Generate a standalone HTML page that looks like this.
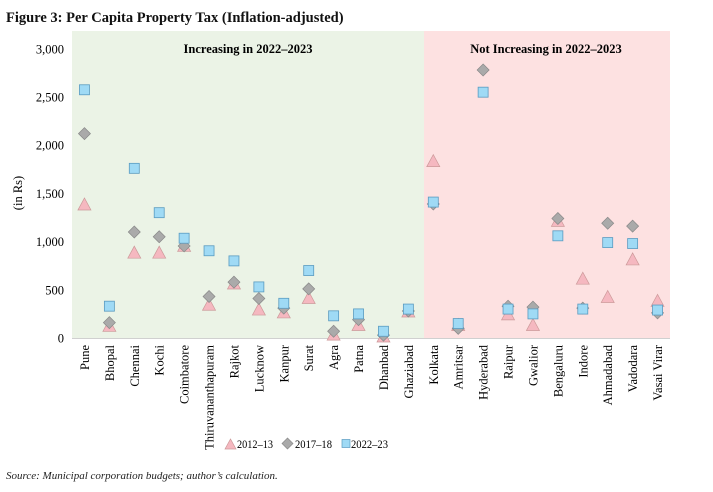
<!DOCTYPE html>
<html><head><meta charset="utf-8"><style>
body{margin:0;background:#fff;width:713px;height:487px;overflow:hidden;font-family:"Liberation Serif",serif}
</style></head><body>
<svg width="713" height="487" xmlns="http://www.w3.org/2000/svg" font-family="Liberation Serif, serif">
<text x="6" y="22" font-size="14.5" font-weight="bold" fill="#111">Figure 3: Per Capita Property Tax (Inflation-adjusted)</text>
<rect x="72" y="31" width="352" height="307" fill="#ebf3e6"/>
<rect x="424" y="31" width="246" height="307" fill="#fde1e1"/>
<line x1="72" y1="338.5" x2="670" y2="338.5" stroke="#d0d0d0"/>
<text x="248" y="53" text-anchor="middle" font-size="12.5" font-weight="bold">Increasing in 2022–2023</text>
<text x="546" y="53" text-anchor="middle" font-size="12.5" font-weight="bold">Not Increasing in 2022–2023</text>
<text transform="translate(22,193) rotate(-90)" text-anchor="middle" font-size="12.5">(in Rs)</text>
<g id="yticks"></g><g id="xlabels"></g><g id="marks"></g>
<g>
<polygon points="225,449 230.5,439 236,449" fill="#f5b8c0" stroke="#c99" stroke-width="0.7"/>
<text x="237" y="448" font-size="12" textLength="36" lengthAdjust="spacingAndGlyphs">2012–13</text>
<polygon points="287.5,438 293,443.5 287.5,449 282,443.5" fill="#aaa" stroke="#888" stroke-width="0.7"/>
<text x="295" y="448" font-size="12" textLength="37" lengthAdjust="spacingAndGlyphs">2017–18</text>
<rect x="342" y="439.5" width="8" height="8" fill="#9fdaf5" stroke="#5a9bc0" stroke-width="0.7"/>
<text x="351" y="448" font-size="12" textLength="37" lengthAdjust="spacingAndGlyphs">2022–23</text>
</g>
<text x="6" y="479" font-size="11" font-style="italic" fill="#222">Source: Municipal corporation budgets; author’s calculation.</text>
</svg>
<script>
const categories=["Pune","Bhopal","Chennai","Kochi","Coimbatore","Thiruvananthapuram","Rajkot","Lucknow","Kanpur","Surat","Agra","Patna","Dhanbad","Ghaziabad","Kolkata","Amritsar","Hyderabad","Raipur","Gwalior","Bengaluru","Indore","Ahmadabad","Vadodara","Vasai Virar"];
const v2012=[1380,120,880,880,950,340,560,290,260,410,30,130,10,270,1830,130,null,240,130,1210,610,420,810,380];
const v2017=[2120,160,1100,1050,955,430,580,410,310,510,70,190,30,280,1390,100,2780,330,320,1240,310,1190,1160,260];
const v2022=[2575,330,1760,1300,1035,905,800,530,360,700,230,250,70,300,1410,150,2550,300,250,1060,300,990,980,290];
const yTicks=[0,500,1000,1500,2000,2500,3000];
const yTickLabels=["0","500","1,000","1,500","2,000","2,500","3,000"];
const NS="http://www.w3.org/2000/svg";
const y=v=>338-v*0.0964;
const bw=(670-72)/categories.length;
const x=i=>72+bw*(i+0.5);
function mk(tag,at){const e=document.createElementNS(NS,tag);for(const k in at)e.setAttribute(k,at[k]);return e;}
const yt=document.getElementById('yticks');
yTicks.forEach((t,i)=>{const e=mk('text',{x:64,y:y(t)+4.5,'text-anchor':'end','font-size':'12.5'});e.textContent=yTickLabels[i];


yt.appendChild(e);});
const xl=document.getElementById('xlabels');
categories.forEach((c,i)=>{const e=mk('text',{transform:`translate(${x(i)+4.5},345) rotate(-90)`,'text-anchor':'end','font-size':'12.5'});e.textContent=c;


xl.appendChild(e);});
const g=document.getElementById('marks');
categories.forEach((c,i)=>{
 const cx=x(i);
 if(v2012[i]!=null){const cy=y(v2012[i]);const e=mk('polygon',{points:`${cx-6.5},${cy+5} ${cx},${cy-7} ${cx+6.5},${cy+5}`,fill:'#f5b8c0',stroke:'#c99','stroke-width':0.7});
 
 
 g.appendChild(e);}
 if(v2017[i]!=null){const cy=y(v2017[i]);const e=mk('polygon',{points:`${cx},${cy-6} ${cx+6},${cy} ${cx},${cy+6} ${cx-6},${cy}`,fill:'#aaa',stroke:'#888','stroke-width':0.7});
 
 
 g.appendChild(e);}
 if(v2022[i]!=null){const cy=y(v2022[i]);const e=mk('rect',{x:cx-5,y:cy-5,width:10,height:10,fill:'#9fdaf5',stroke:'#5a9bc0','stroke-width':0.8});
 
 
 g.appendChild(e);}
});
</script>
</body></html>
